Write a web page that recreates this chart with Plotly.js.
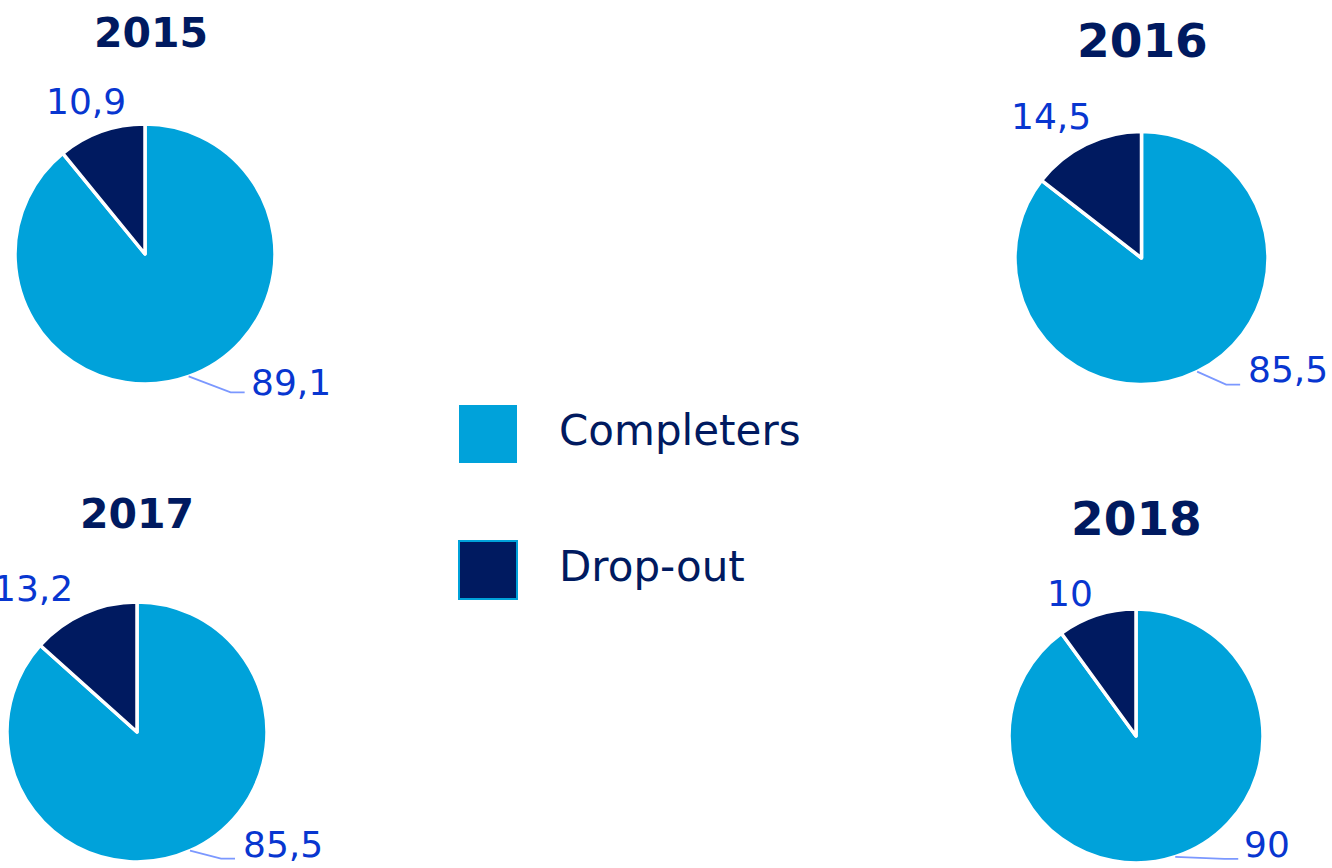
<!DOCTYPE html>
<html>
<head>
<meta charset="utf-8">
<script src="https://cdn.plot.ly/plotly-3.0.1.min.js"></script>
<style>html,body{margin:0;padding:0;background:#fff;}#chart{width:1332px;height:868px;}</style>
</head>
<body>
<div id="chart"></div>
<script>
// ---- data ----
const categories = ['Completers', 'Drop-out'];
const years = ['2015', '2016', '2017', '2018'];
const completers = [89.1, 85.5, 85.5, 90];
const dropout = [10.9, 14.5, 13.2, 10];

// ---- styles / layout config ----
const W = 1332, H = 868;
const colors = ['#00A2DA', '#001A60'];
const navy = '#001A60';
const labelBlue = '#0836D0';
const leaderColor = '#7B98FF';
const FONT = 'DejaVu Sans, Verdana, sans-serif';

const pieGeom = [
  {cx: 145, cy: 254, r: 130, tx: 151, ty: 33, ts: 41,
   drop: [-15, -30], lineEnd: [56, 16], text: [60, 6]},
  {cx: 1141.5, cy: 258, r: 126.5, tx: 1142, ty: 40, ts: 47,
   drop: [-35, -28], lineEnd: [43, 13], text: [49, -2]},
  {cx: 137, cy: 732, r: 130, tx: 137, ty: 514, ts: 41,
   drop: [-51, -25], lineEnd: [45, 8], text: [51, -6]},
  {cx: 1136, cy: 736, r: 127, tx: 1136, ty: 518, ts: 47,
   drop: [-27, -22], lineEnd: [63, 2], text: [67, -12]}
];
const legendGeom = {x0: 459, size: 58, rows: [405, 541], textX: 557, fontSize: 42};

const px = x => x / W;
const py = y => 1 - y / H;
const fmt = v => String(v).replace('.', ',');

const traces = [];
const annotations = [];
const shapes = [];

years.forEach((yr, i) => {
  const g = pieGeom[i];
  traces.push({
    type: 'pie',
    values: [completers[i], dropout[i]],
    labels: categories,
    sort: false,
    direction: 'clockwise',
    rotation: 0,
    textinfo: 'none',
    hoverinfo: 'label+value',
    marker: {colors: colors, line: {color: '#ffffff', width: 3.5}},
    domain: {x: [px(g.cx - g.r), px(g.cx + g.r)], y: [py(g.cy + g.r), py(g.cy - g.r)]},
    showlegend: false
  });

  // title
  annotations.push({
    text: '<b>' + yr + '</b>', x: px(g.tx), y: py(g.ty), xref: 'paper', yref: 'paper',
    xanchor: 'center', yanchor: 'middle', showarrow: false,
    font: {family: FONT, size: g.ts, color: navy}
  });

  const f = completers[i] / (completers[i] + dropout[i]);
  // completers mid angle (clockwise from 12 o'clock)
  const tc = f * Math.PI;
  const E = [g.cx + g.r * Math.sin(tc), g.cy - g.r * Math.cos(tc)];
  // dropout mid angle
  const td = Math.PI * (1 + f);
  const Ed = [g.cx + g.r * Math.sin(td), g.cy - g.r * Math.cos(td)];

  annotations.push({
    text: fmt(dropout[i]), x: px(Ed[0] + g.drop[0]), y: py(Ed[1] + g.drop[1]),
    xref: 'paper', yref: 'paper', xanchor: 'center', yanchor: 'middle', showarrow: false,
    font: {family: FONT, size: 36, color: labelBlue}
  });
  annotations.push({
    text: fmt(completers[i]), x: px(E[0] + g.text[0]), y: py(E[1] + g.text[1]),
    xref: 'paper', yref: 'paper', xanchor: 'left', yanchor: 'middle', showarrow: false,
    font: {family: FONT, size: 36, color: labelBlue}
  });
  const L = [E[0] + g.lineEnd[0], E[1] + g.lineEnd[1]];
  const B = [L[0] - 14, L[1]];
  shapes.push({
    type: 'path', xref: 'paper', yref: 'paper',
    path: 'M ' + px(E[0]) + ',' + py(E[1]) + ' L ' + px(B[0]) + ',' + py(B[1]) + ' L ' + px(L[0]) + ',' + py(L[1]),
    line: {color: leaderColor, width: 1.8}
  });
});

// legend
categories.forEach((c, k) => {
  const y0 = legendGeom.rows[k];
  shapes.push({
    type: 'rect', xref: 'paper', yref: 'paper',
    x0: px(legendGeom.x0), x1: px(legendGeom.x0 + legendGeom.size),
    y0: py(y0 + legendGeom.size), y1: py(y0),
    fillcolor: colors[k], line: {color: colors[0], width: k === 0 ? 0 : 2}
  });
  annotations.push({
    text: c, x: px(legendGeom.textX), y: py(y0 + legendGeom.size / 2 - 4),
    xref: 'paper', yref: 'paper', xanchor: 'left', yanchor: 'middle', showarrow: false,
    font: {family: FONT, size: legendGeom.fontSize, color: navy}
  });
});

const layout = {
  width: W, height: H,
  margin: {l: 0, r: 0, t: 0, b: 0},
  paper_bgcolor: '#ffffff',
  showlegend: false,
  annotations: annotations,
  shapes: shapes
};

Plotly.newPlot('chart', traces, layout, {displayModeBar: false, staticPlot: true});
</script>
</body>
</html>
